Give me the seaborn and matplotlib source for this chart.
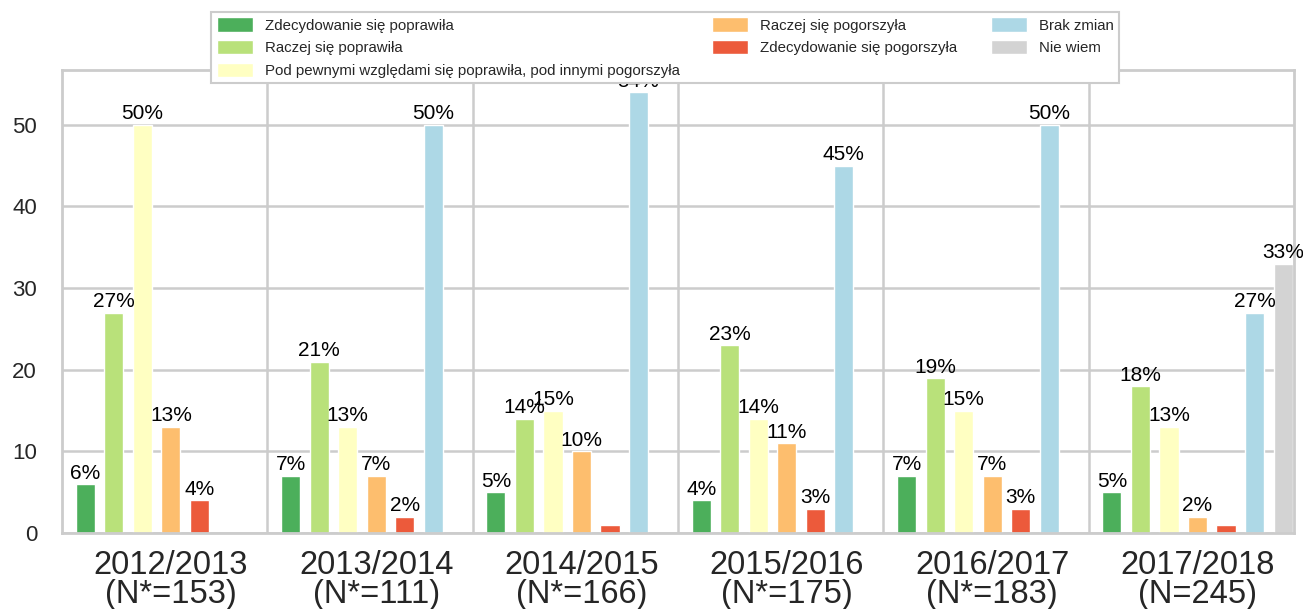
import numpy as np
import pandas as pd
import matplotlib
matplotlib.use('Agg')
import matplotlib.pyplot as plt
import seaborn as sns

# dane
lata = ['2012/2013\n(N*=153)', '2013/2014\n(N*=111)', '2014/2015\n(N*=166)',
        '2015/2016\n(N*=175)', '2016/2017\n(N*=183)', '2017/2018\n(N=245)']
kategorie = ['Zdecydowanie się poprawiła', 'Raczej się poprawiła',
             'Pod pewnymi względami się poprawiła, pod innymi pogorszyła',
             'Raczej się pogorszyła', 'Zdecydowanie się pogorszyła',
             'Brak zmian', 'Nie wiem']
zdec_popr = [6, 7, 5, 4, 7, 5]
raczej_popr = [27, 21, 14, 23, 19, 18]
pod_pewnymi = [50, 13, 15, 14, 15, 13]
raczej_pogo = [13, 7, 10, 11, 7, 2]
zdec_pogo = [4, 2, 1, 3, 3, 1]
brak_zmian = [np.nan, 50, 54, 45, 50, 27]
nie_wiem = [np.nan, np.nan, np.nan, np.nan, np.nan, 33]
kolory = ['#4caf5b', '#b9e17a', '#ffffc2', '#fdbe6e', '#ec5a3b', '#add8e6', '#d3d3d3']

serie = [zdec_popr, raczej_popr, pod_pewnymi, raczej_pogo, zdec_pogo, brak_zmian, nie_wiem]
rows = []
for kat, vals in zip(kategorie, serie):
    for rok, v in zip(lata, vals):
        rows.append({'rok': rok, 'kategoria': kat, 'proc': v})
df = pd.DataFrame(rows)

sns.set_theme(style='whitegrid')
plt.rcParams['font.family'] = ['Liberation Sans', 'DejaVu Sans']

fig = plt.figure(figsize=(13.03, 6.09), dpi=100)
ax = fig.add_axes([0.0476, 0.1248, 0.9455, 0.760])

sns.barplot(data=df, x='rok', y='proc', hue='kategoria', order=lata,
            hue_order=kategorie, palette=kolory, width=0.973, gap=0.33,
            saturation=1, errorbar=None, edgecolor='white', linewidth=1, ax=ax)

# etykiety procentowe nad słupkami
for cont in ax.containers:
    labels = []
    for bar in cont:
        h = bar.get_height()
        labels.append(f'{h:.0f}%' if (not np.isnan(h) and h >= 2) else '')
    ax.bar_label(cont, labels=labels, padding=1, fontsize=15, color='black')

ax.set_xlim(-0.53, 5.47)
ax.set_ylim(0, 56.7)
ax.set_yticks([0, 10, 20, 30, 40, 50])
ax.grid(axis='x', visible=False)
ax.grid(axis='y', color='#cccccc', linewidth=1.8)
for x in np.arange(0.47, 5, 1):
    ax.axvline(x, color='#cccccc', linewidth=1.8, zorder=0)
for s in ax.spines.values():
    s.set_color('#cccccc')
    s.set_linewidth(2)
ax.set_xlabel('')
ax.set_ylabel('')
ax.tick_params(axis='y', labelsize=16, pad=12, labelcolor='#262626')
ax.tick_params(axis='x', labelsize=23.5, pad=6, labelcolor='#262626')
for t in ax.get_xticklabels():
    t.set_linespacing(0.95)

ax.get_legend().remove()
h, l = ax.get_legend_handles_labels()
leg = fig.legend(h, l, loc='upper center', bbox_to_anchor=(665 / 1303, 1 - 12 / 609),
                 ncol=3, fontsize=10.8, frameon=True, fancybox=False,
                 edgecolor='#cccccc', framealpha=1, borderpad=0.35, borderaxespad=0,
                 handlelength=2.4, handleheight=1.1, columnspacing=2.2,
                 labelspacing=0.5, handletextpad=0.8)
leg.get_frame().set_linewidth(1.5)

fig.savefig('out.png', dpi=100)
